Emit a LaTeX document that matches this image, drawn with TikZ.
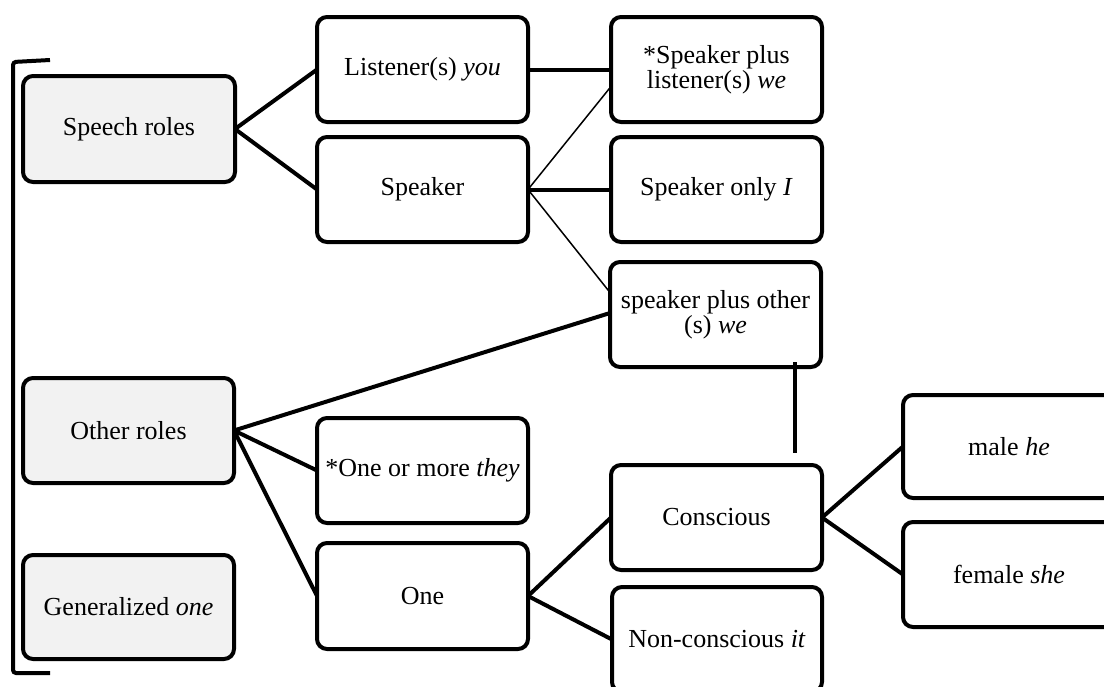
\documentclass[tikz,border=0pt]{standalone}
\usepackage{fontspec}
\setmainfont{Liberation Serif}
\definecolor{boxgrey}{HTML}{F2F2F2}
\begin{document}
\begin{tikzpicture}[x=1pt,y=-1pt,
  box/.style={draw, line width=4pt, rounded corners=10pt, outer sep=0pt,
    inner sep=0pt, minimum width=211pt, minimum height=105pt, align=center,
    font=\fontsize{26pt}{22pt}\selectfont},
  greybox/.style={box, fill=boxgrey},
  link/.style={line width=4pt},
  thinlink/.style={line width=1.5pt}]
\useasboundingbox (0,0) rectangle (1104,686);
\clip (0,0) rectangle (1104,686);

% left bracket grouping the three top-level categories
\draw[line width=4pt, rounded corners=3pt] (50,60) -- (13,62) -- (13,673) -- (50,673);

% top-level categories
\node[greybox, minimum width=212pt, minimum height=106pt] (sr)  at (129,129)   {Speech roles};
\node[greybox] (orl) at (128.5,430.5) {Other roles};
\node[greybox, minimum height=104pt] (gen) at (128.5,607) {Generalized \textit{one}};

% speech roles branch
\node[box] (lis) at (422.5,69.5)  {Listener(s) \textit{you}};
\node[box] (spk) at (422.5,189.5) {Speaker};
\node[box] (spl) at (716.5,69.5)  {*Speaker plus\\listener(s) \textit{we}};
\node[box] (son) at (716.5,189.5) {Speaker only \textit{I}};
\node[box] (spo) at (715.5,314.5) {speaker plus other\\(s) \textit{we}};

% other roles branch
\node[box] (they) at (422.5,470.5) {*One or more \textit{they}};
\node[box, minimum height=106pt] (one) at (422.5,596) {One};
\node[box] (con) at (716.5,517.5) {Conscious};
\node[box, minimum width=210pt] (non) at (717,639.5) {Non-conscious \textit{it}};
\node[box, minimum width=212pt, minimum height=103pt] (male) at (1009,446.5) {male \textit{he}};
\node[box, minimum width=212pt] (fem) at (1009,574.5) {female \textit{she}};

% connectors
\draw[link] (sr.east) -- (lis.west);
\draw[link] (sr.east) -- (spk.west);
\draw[link] (lis.east) -- (spl.west);
\draw[thinlink] (spk.east) -- ([yshift=-17pt]spl.west);
\draw[link] (spk.east) -- (son.west);
\draw[thinlink] (spk.east) -- ([yshift=22pt]spo.west);
\draw[link] (orl.east) -- ([yshift=1.5pt]spo.west);
\draw[link] (orl.east) -- (they.west);
\draw[link] (orl.east) -- (one.west);
\draw[link] (one.east) -- (con.west);
\draw[link] (one.east) -- (non.west);
\draw[link] (con.east) -- (male.west);
\draw[link] (con.east) -- (fem.west);
\coordinate (vend) at (795,453);
\draw[link] ([xshift=79.5pt,yshift=5pt]spo.south) -- (vend);
\end{tikzpicture}
\end{document}
